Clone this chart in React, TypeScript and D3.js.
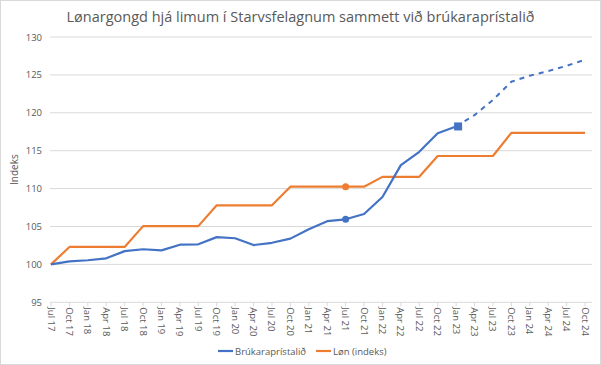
import React from 'react'
import * as d3 from 'd3'

const W = 601
const H = 365

// quarterly categories
const labels = [
  'Jul 17', 'Oct 17', 'Jan 18', 'Apr 18', 'Jul 18', 'Oct 18', 'Jan 19', 'Apr 19', 'Jul 19', 'Oct 19',
  'Jan 20', 'Apr 20', 'Jul 20', 'Oct 20', 'Jan 21', 'Apr 21', 'Jul 21', 'Oct 21', 'Jan 22', 'Apr 22',
  'Jul 22', 'Oct 22', 'Jan 23', 'Apr 23', 'Jul 23', 'Oct 23', 'Jan 24', 'Apr 24', 'Jul 24', 'Oct 24',
]

// Brúkaraprístalið, actual values (Jul 17 - Jan 23)
const prices = [
  100.0, 100.4, 100.55, 100.8, 101.75, 102.0, 101.85, 102.6, 102.65, 103.6,
  103.45, 102.55, 102.85, 103.4, 104.65, 105.7, 105.95, 106.65, 108.9, 113.1,
  114.85, 117.3, 118.2,
]
// forecast (Jan 23 - Oct 24), dashed
const priceForecast = [118.2, 119.7, 121.7, 124.1, 124.9, 125.5, 126.2, 127.0]

// Løn (indeks)
const wages = [
  100.0, 102.3, 102.3, 102.3, 102.3, 105.05, 105.05, 105.05, 105.05, 107.8,
  107.8, 107.8, 107.8, 110.25, 110.25, 110.25, 110.25, 110.25, 111.55, 111.55,
  111.55, 114.3, 114.3, 114.3, 114.3, 117.35, 117.35, 117.35, 117.35, 117.35,
]

const yTicks = [95, 100, 105, 110, 115, 120, 125, 130]

const BLUE = '#4472C4'
const ORANGE = '#ED7D31'
const GRID = '#D9D9D9'
const TEXT = '#595959'
const FONT = 'Open Sans, Lato, sans-serif'

const App = () => {
  const x = d3.scaleLinear().domain([0, 29]).range([51, 585])
  const y = d3.scaleLinear().domain([95, 130]).range([302.3, 37])
  const plotLeft = 50
  const plotRight = 592

  const line = d3
    .line<number>()
    .x((_, i) => x(i))
    .y((d) => y(d))

  const forecastStart = prices.length - 1
  const forecastLine = d3
    .line<number>()
    .x((_, i) => x(forecastStart + i))
    .y((d) => y(d))

  const dotIdx = 16 // Jul 21
  const sqIdx = prices.length - 1 // Jan 23

  return (
    <svg
      width={W}
      height={H}
      style={{ position: 'absolute', left: 0, top: 0, fontFamily: FONT }}
    >
      <rect x={0.5} y={0.5} width={W - 1} height={H - 1} fill='#fff' stroke={GRID} />
      <text x={W / 2} y={22} textAnchor='middle' fontSize={14.5} fill={TEXT}>
        Lønargongd hjá limum í Starvsfelagnum sammett við brúkaraprístalið
      </text>

      {yTicks.map((t) => (
        <g key={t}>
          <line x1={plotLeft} x2={plotRight} y1={y(t)} y2={y(t)} stroke={GRID} strokeWidth={1} />
          <text x={42} y={y(t) + 3.5} textAnchor='end' fontSize={9.5} fill={TEXT}>
            {t}
          </text>
        </g>
      ))}

      {labels.map((l, i) => (
        <g key={l}>
          <line x1={x(i)} x2={x(i)} y1={y(95)} y2={y(95) + 4} stroke={GRID} />
          <text
            transform={`translate(${x(i) - 3.5},${y(95) + 5}) rotate(90)`}
            fontSize={9.5}
            fill={TEXT}
          >
            {l}
          </text>
        </g>
      ))}

      <text
        transform={`translate(18,${y(112.5)}) rotate(-90)`}
        textAnchor='middle'
        fontSize={10}
        fill={TEXT}
      >
        Indeks
      </text>

      <path d={line(wages) ?? ''} fill='none' stroke={ORANGE} strokeWidth={2.2} strokeLinejoin='round' />
      <path d={line(prices) ?? ''} fill='none' stroke={BLUE} strokeWidth={2.2} strokeLinejoin='round' />
      <path
        d={forecastLine(priceForecast) ?? ''}
        fill='none'
        stroke={BLUE}
        strokeWidth={2}
        strokeDasharray='5,5'
      />

      <circle cx={x(dotIdx)} cy={y(wages[dotIdx])} r={3.5} fill={ORANGE} />
      <circle cx={x(dotIdx)} cy={y(prices[dotIdx])} r={3.5} fill={BLUE} />
      <rect x={x(sqIdx) - 2} y={y(prices[sqIdx]) - 4} width={8} height={8} fill={BLUE} />

      <g transform='translate(218,351)'>
        <line x1={0} x2={15} y1={0} y2={0} stroke={BLUE} strokeWidth={2.2} />
        <text x={17} y={3.5} fontSize={9.5} fill={TEXT}>
          Brúkaraprístalið
        </text>
      </g>
      <g transform='translate(316,351)'>
        <line x1={0} x2={15} y1={0} y2={0} stroke={ORANGE} strokeWidth={2.2} />
        <text x={17} y={3.5} fontSize={9.5} fill={TEXT}>
          Løn (indeks)
        </text>
      </g>
    </svg>
  )
}

export default App
